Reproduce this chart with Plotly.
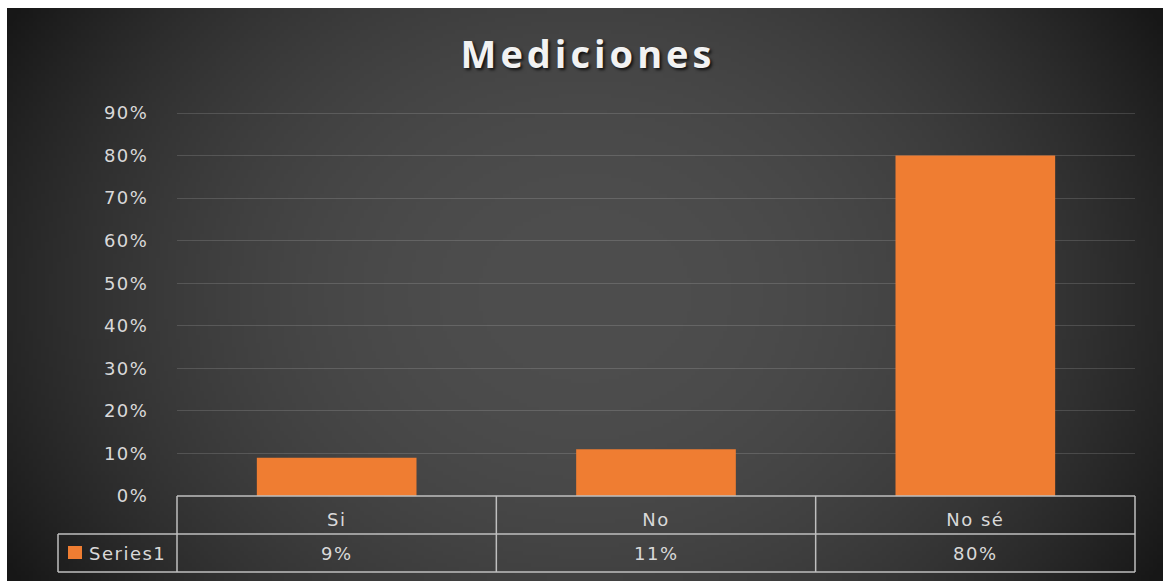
import base64
import struct
import zlib

import numpy as np
import plotly.graph_objects as go

# ---------------- data ----------------
categories = ["Si", "No", "No sé"]
series_name = "Series1"
values = [0.09, 0.11, 0.80]
value_labels = ["9%", "11%", "80%"]
y_tick_values = [0.0, 0.1, 0.2, 0.3, 0.4, 0.5, 0.6, 0.7, 0.8, 0.9]
y_tick_labels = ["0%", "10%", "20%", "30%", "40%", "50%", "60%", "70%", "80%", "90%"]
chart_title = "Mediciones"

# ---------------- geometry (pixels) ----------------
W, H = 1163, 581
TOP_TICK_PX = 113            # pixel row of the 90% gridline
EXTRA_TOP = 4                # small headroom so the top gridline is drawn
ML, MR, MT, MB = 177, 28, TOP_TICK_PX - EXTRA_TOP, 85
PW, PH = W - ML - MR, H - MT - MB
BG_LEFT, BG_TOP = 7, 8
ROW_H = 38
LEGEND_CELL_LEFT = 58

X_MIN, X_MAX = -0.5, len(categories) - 0.5
Y_MIN = 0.0
Y_TOP_TICK = 0.9
Y_MAX = Y_TOP_TICK * PH / (PH - EXTRA_TOP)


def px_to_paper_x(px):
    return (px - ML) / PW


def px_to_paper_y(py):
    return (H - MB - py) / PH


def data_to_paper_x(v):
    return (v - X_MIN) / (X_MAX - X_MIN)


def spaced(text, sp=1.5):
    return f'<span style="letter-spacing:{sp}px">{text}</span>'


# ---------------- radial gradient background as PNG ----------------
def make_png(gray):
    h, w = gray.shape
    raw = b"".join(b"\x00" + row.tobytes() for row in gray)

    def chunk(tag, data):
        c = struct.pack(">I", len(data)) + tag + data
        return c + struct.pack(">I", zlib.crc32(tag + data) & 0xFFFFFFFF)

    ihdr = struct.pack(">IIBBBBB", w, h, 8, 0, 0, 0, 0)
    return (b"\x89PNG\r\n\x1a\n" + chunk(b"IHDR", ihdr)
            + chunk(b"IDAT", zlib.compress(raw, 9)) + chunk(b"IEND", b""))


gw, gh = 290, 143
yy, xx = np.mgrid[0:gh, 0:gw]
dx = (xx - (gw - 1) / 2) / (gw / 2)
dy = (yy - (gh - 1) / 2) / (gh / 2) * 0.6
d = np.clip(np.sqrt(dx ** 2 + dy ** 2), 0, 1.3)
center_c, edge_c = 78, 38
gray = center_c - (center_c - edge_c) * np.clip(d, 0, 1.15) ** 2.2
gray = np.clip(gray, 0, 255).astype(np.uint8)
bg_src = "data:image/png;base64," + base64.b64encode(make_png(gray)).decode()

# ---------------- figure ----------------
text_color = "#d9d9d9"
line_color = "#bfbfbf"
bar_color = "#ef7d32"
font_family = "DejaVu Sans"

fig = go.Figure()
fig.add_trace(go.Bar(
    x=list(range(len(categories))),
    y=values,
    name=series_name,
    marker=dict(color=bar_color, line=dict(width=0)),
    showlegend=False,
))

shapes = []
table_line = dict(color=line_color, width=1.5)
y_row1 = px_to_paper_y(H - MB + ROW_H)
y_row2 = px_to_paper_y(H - MB + 2 * ROW_H)
# top of table (axis line)
shapes.append(dict(type="line", xref="paper", yref="paper", x0=0, x1=1, y0=0, y1=0, line=table_line))
# row separator
shapes.append(dict(type="line", xref="paper", yref="paper", x0=px_to_paper_x(LEGEND_CELL_LEFT), x1=1,
                   y0=y_row1, y1=y_row1, line=table_line))
# bottom
shapes.append(dict(type="line", xref="paper", yref="paper", x0=px_to_paper_x(LEGEND_CELL_LEFT), x1=1,
                   y0=y_row2, y1=y_row2, line=table_line))
# vertical lines at category boundaries
for i in range(len(categories) + 1):
    xb = data_to_paper_x(i - 0.5)
    shapes.append(dict(type="line", xref="paper", yref="paper", x0=xb, x1=xb, y0=0, y1=y_row2, line=table_line))
# legend cell left border
xl = px_to_paper_x(LEGEND_CELL_LEFT)
shapes.append(dict(type="line", xref="paper", yref="paper", x0=xl, x1=xl, y0=y_row1, y1=y_row2, line=table_line))
# legend key square
shapes.append(dict(type="rect", xref="paper", yref="paper",
                   x0=px_to_paper_x(68), x1=px_to_paper_x(82),
                   y0=px_to_paper_y(546), y1=px_to_paper_y(559),
                   fillcolor=bar_color, line=dict(width=0)))

annotations = []
y_val = px_to_paper_y(H - MB + 1.5 * ROW_H)
for i, lab in enumerate(value_labels):
    annotations.append(dict(x=i, xref="x", y=y_val, yref="paper", text=spaced(lab),
                            showarrow=False, xanchor="center", yanchor="middle",
                            font=dict(family=font_family, size=18, color=text_color)))
annotations.append(dict(x=px_to_paper_x(87), xref="paper", y=y_val, yref="paper", text=spaced(series_name),
                        showarrow=False, xanchor="left", yanchor="middle",
                        font=dict(family=font_family, size=18, color=text_color)))

fig.update_layout(
    width=W, height=H,
    margin=dict(l=ML, r=MR, t=MT, b=MB),
    paper_bgcolor="white",
    plot_bgcolor="rgba(0,0,0,0)",
    bargap=0.5,
    title=dict(
        text=f'<span style="letter-spacing:4px">{chart_title}</span>',
        x=588 / W, xanchor="center", y=1 - 55 / H, yanchor="middle",
        font=dict(family="Open Sans", size=38, color="#f2f2f2", weight="bold",
                  shadow="2px 2px 3px rgba(0,0,0,0.75)"),
    ),
    xaxis=dict(
        range=[X_MIN, X_MAX],
        tickvals=list(range(len(categories))),
        ticktext=[spaced(c) for c in categories],
        ticks="outside", ticklen=7, tickcolor="rgba(0,0,0,0)",
        showgrid=False, zeroline=False, showline=False,
        tickfont=dict(family=font_family, size=18, color=text_color),
        fixedrange=True,
    ),
    yaxis=dict(
        range=[Y_MIN, Y_MAX],
        tickvals=y_tick_values,
        ticktext=[spaced(t) for t in y_tick_labels],
        ticks="outside", ticklen=24, tickcolor="rgba(0,0,0,0)",
        showgrid=True, gridcolor="rgba(255,255,255,0.14)", gridwidth=1,
        zeroline=False, showline=False,
        tickfont=dict(family=font_family, size=18, color=text_color),
        fixedrange=True,
    ),
    images=[dict(
        source=bg_src, xref="paper", yref="paper",
        x=px_to_paper_x(BG_LEFT), y=px_to_paper_y(BG_TOP),
        sizex=(W - BG_LEFT) / PW, sizey=(H - BG_TOP) / PH,
        xanchor="left", yanchor="top", sizing="stretch", layer="below",
    )],
    shapes=shapes,
    annotations=annotations,
)

fig.write_html("out.html", config={"displayModeBar": False})
